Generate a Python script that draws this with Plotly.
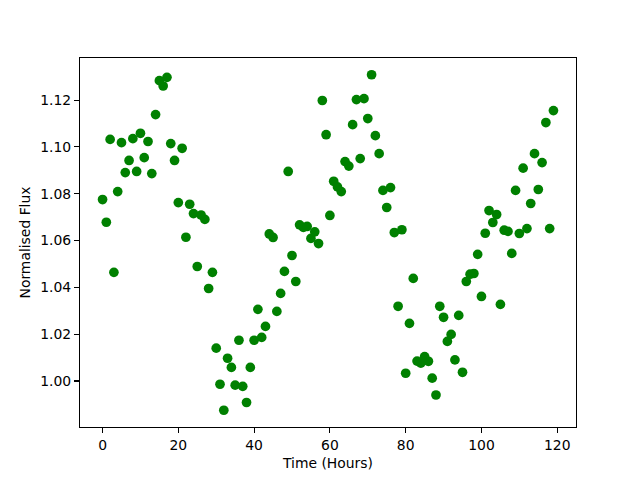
import plotly.graph_objects as go

hours = [0, 1, 2, 3, 4, 5, 6, 7, 8, 9,
         10, 11, 12, 13, 14, 15, 16, 17, 18, 19,
         20, 21, 22, 23, 24, 25, 26, 27, 28, 29,
         30, 31, 32, 33, 34, 35, 36, 37, 38, 39,
         40, 41, 42, 43, 44, 45, 46, 47, 48, 49,
         50, 51, 52, 53, 54, 55, 56, 57, 58, 59,
         60, 61, 62, 63, 64, 65, 66, 67, 68, 69,
         70, 71, 72, 73, 74, 75, 76, 77, 78, 79,
         80, 81, 82, 83, 84, 85, 86, 87, 88, 89,
         90, 91, 92, 93, 94, 95, 96, 97, 98, 99,
         100, 101, 102, 103, 104, 105, 106, 107, 108, 109,
         110, 111, 112, 113, 114, 115, 116, 117, 118, 119]

flux = [1.0775, 1.0678, 1.1032, 1.0464, 1.0809, 1.1018, 1.0890, 1.0942, 1.1035, 1.0895,
        1.1058, 1.0954, 1.1023, 1.0886, 1.1138, 1.1283, 1.1260, 1.1297, 1.1014, 1.0942,
        1.0762, 1.0994, 1.0614, 1.0755, 1.0715, 1.0489, 1.0709, 1.0690, 1.0395, 1.0464,
        1.0140, 0.9986, 0.9875, 1.0097, 1.0058, 0.9982, 1.0174, 0.9977, 0.9908, 1.0058,
        1.0174, 1.0306, 1.0186, 1.0233, 1.0628, 1.0613, 1.0297, 1.0374, 1.0468, 1.0895,
        1.0536, 1.0425, 1.0667, 1.0656, 1.0660, 1.0609, 1.0637, 1.0587, 1.1198, 1.1052,
        1.0707, 1.0853, 1.0829, 1.0809, 1.0937, 1.0918, 1.1095, 1.1202, 1.0950, 1.1206,
        1.1121, 1.1308, 1.1048, 1.0971, 1.0814, 1.0741, 1.0826, 1.0634, 1.0319, 1.0646,
        1.0033, 1.0246, 1.0438, 1.0085, 1.0076, 1.0104, 1.0084, 1.0012, 0.9940, 1.0319,
        1.0272, 1.0169, 1.0199, 1.0090, 1.0280, 1.0037, 1.0425, 1.0456, 1.0459, 1.0541,
        1.0361, 1.0631, 1.0728, 1.0677, 1.0711, 1.0327, 1.0644, 1.0639, 1.0545, 1.0814,
        1.0630, 1.0909, 1.0651, 1.0758, 1.0971, 1.0818, 1.0933, 1.1104, 1.0651, 1.1155]

x_ticks = [0, 20, 40, 60, 80, 100, 120]
y_ticks = [1.00, 1.02, 1.04, 1.06, 1.08, 1.10, 1.12]

xmin, xmax = min(hours), max(hours)
ymin, ymax = min(flux), max(flux)
xpad = 0.05 * (xmax - xmin)
ypad = 0.05 * (ymax - ymin)

fig = go.Figure(
    go.Scatter(
        x=hours, y=flux, mode="markers",
        marker=dict(color="#008000", size=9.7, line=dict(width=0)),
        showlegend=False,
    )
)

axis_common = dict(
    showgrid=False, zeroline=False, automargin=False,
    showline=True, linecolor="black", linewidth=1.1, mirror=True,
    ticks="outside", ticklen=4.9, tickwidth=1.1, tickcolor="black",
    tickfont=dict(family="DejaVu Sans", size=13.9, color="black"),
)

fig.update_xaxes(
    range=[xmin - xpad, xmax + xpad],
    tickvals=x_ticks, ticktext=[str(v) for v in x_ticks],
    title=dict(text="Time (Hours)", font=dict(family="DejaVu Sans", size=13.9, color="black"), standoff=6),
    **axis_common,
)
fig.update_yaxes(
    range=[ymin - ypad, ymax + ypad],
    tickvals=y_ticks, ticktext=[f"{v:.2f}" for v in y_ticks],
    title=dict(text="Normalised Flux", font=dict(family="DejaVu Sans", size=13.9, color="black"), standoff=6),
    **axis_common,
)

fig.update_layout(
    width=640, height=480,
    margin=dict(l=80, r=64, t=58, b=53, pad=0),
    paper_bgcolor="white", plot_bgcolor="white",
    font=dict(family="DejaVu Sans", color="black"),
    hovermode=False,
)

fig.write_html(
    "out.html",
    config={"displayModeBar": False, "staticPlot": True},
    post_script="document.body.style.margin='0';",
)
